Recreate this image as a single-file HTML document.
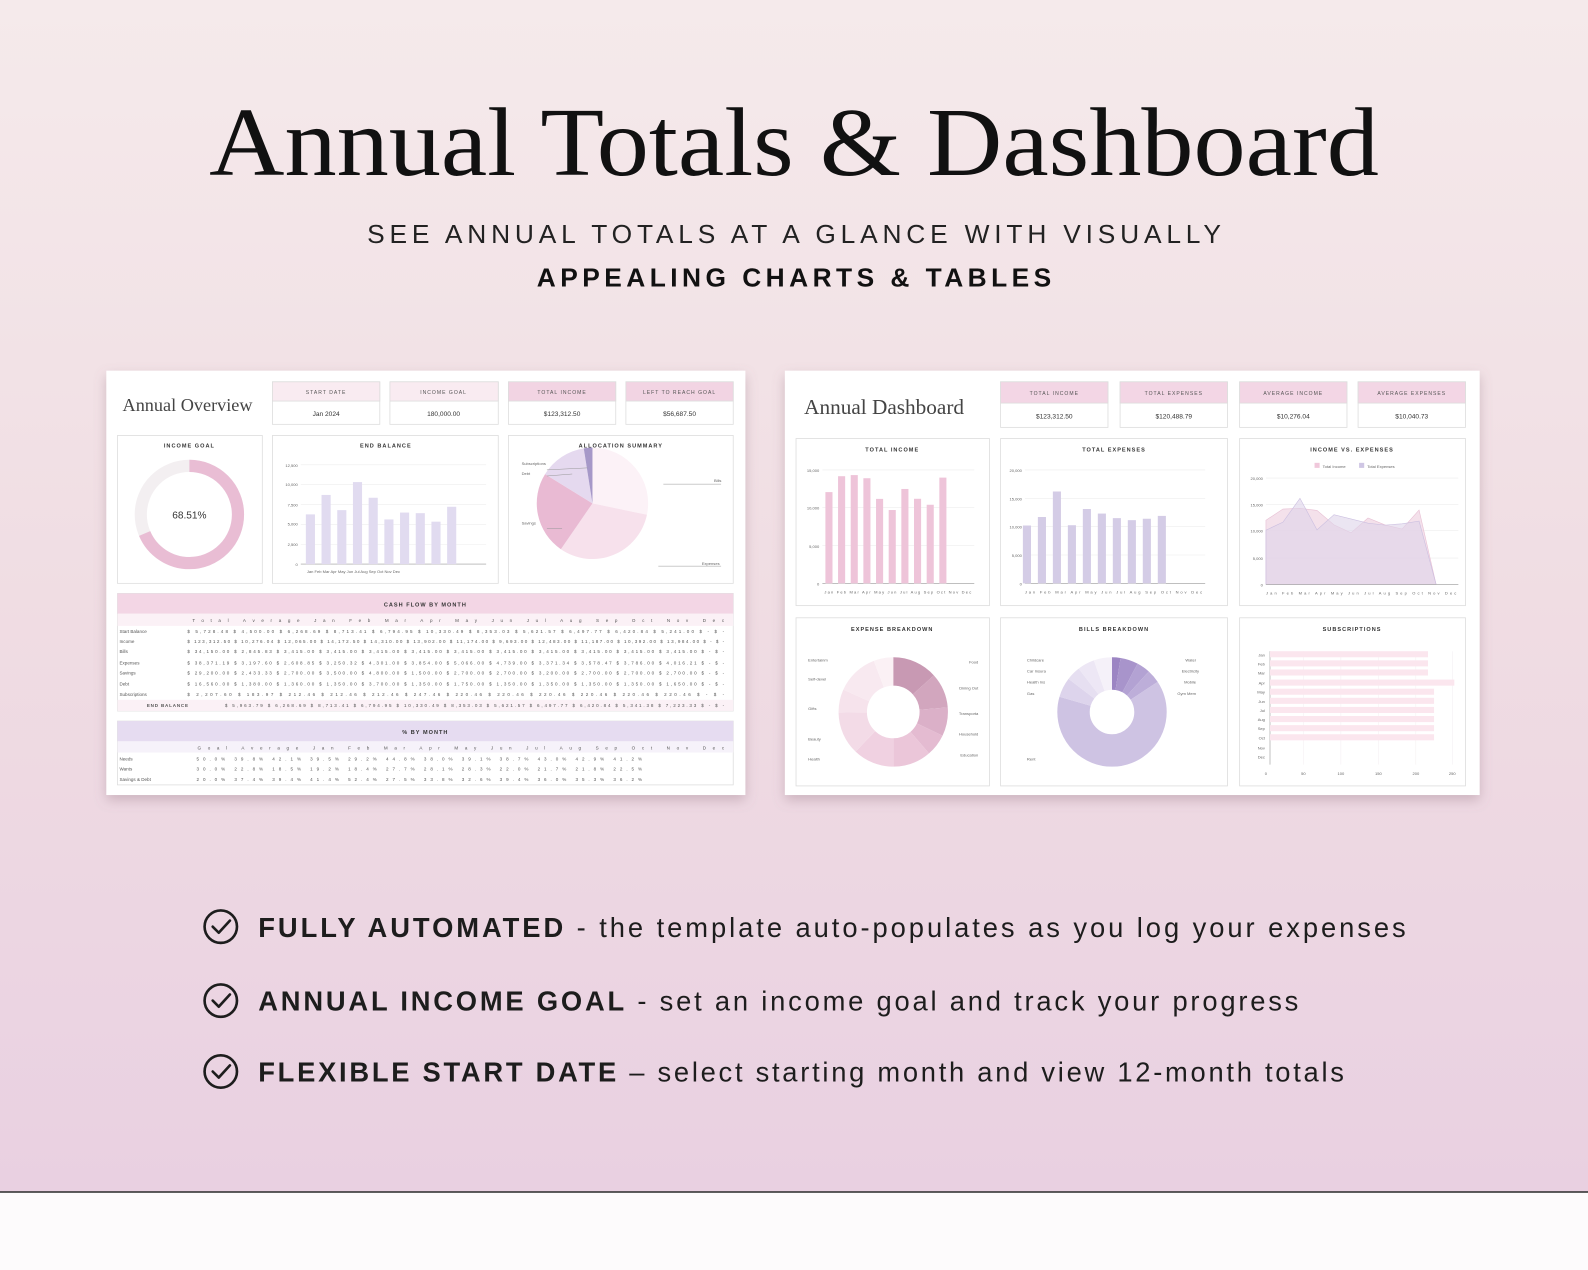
<!DOCTYPE html>
<html><head><meta charset="utf-8"><style>
html,body{margin:0;padding:0;width:1588px;height:1270px;overflow:hidden}
svg{display:block}
.s{font-family:"Liberation Sans",sans-serif}
.t{font-family:"Liberation Sans",sans-serif;font-size:4.5px;fill:#555}
.h{font-family:"Liberation Sans",sans-serif;font-size:5.5px;fill:#333;font-weight:bold;letter-spacing:1px}
.ax{font-family:"Liberation Sans",sans-serif;font-size:4px;fill:#666}
</style></head><body>
<svg width="1588" height="1270" viewBox="0 0 1568 1254" xmlns="http://www.w3.org/2000/svg">
<defs>
<linearGradient id="bg" x1="0" y1="0" x2="0" y2="1"><stop offset="0" stop-color="#f5eaeb"/><stop offset="0.5" stop-color="#f0dde3"/><stop offset="1" stop-color="#e9d0e1"/></linearGradient>
<filter id="sh" x="-5%" y="-5%" width="110%" height="115%"><feDropShadow dx="0" dy="5" stdDeviation="6" flood-color="#8a6a78" flood-opacity="0.35"/></filter>
</defs>
<rect width="1568" height="1177" fill="url(#bg)"/>
<rect y="1177" width="1568" height="77" fill="#fdfbfc"/>
<line x1="0" y1="1177" x2="1568" y2="1177" stroke="#2a2a2a" stroke-width="1.5"/>

<text x="784" y="173" text-anchor="middle" font-family="Liberation Serif,serif" font-size="96" fill="#111" textLength="1155" lengthAdjust="spacingAndGlyphs">Annual Totals &amp; Dashboard</text>
<text x="784" y="240" text-anchor="middle" class="s" font-size="26" fill="#222" textLength="843" lengthAdjust="spacing">SEE ANNUAL TOTALS AT A GLANCE WITH VISUALLY</text>
<text x="784" y="283" text-anchor="middle" class="s" font-size="26" font-weight="bold" fill="#111" textLength="508" lengthAdjust="spacing">APPEALING CHARTS &amp; TABLES</text>

<!-- LEFT PANEL -->
<rect x="105" y="366" width="631" height="419" fill="#fff" filter="url(#sh)"/>
<text x="121" y="406" font-family="Liberation Serif,serif" font-size="18" fill="#444">Annual Overview</text>
<g stroke="#ddd" stroke-width="0.8">
<rect x="269" y="377" width="106" height="42" fill="#fff"/><rect x="269" y="377" width="106" height="19" fill="#f9ebf1"/>
<rect x="385" y="377" width="107" height="42" fill="#fff"/><rect x="385" y="377" width="107" height="19" fill="#f9ebf1"/>
<rect x="502" y="377" width="106" height="42" fill="#fff"/><rect x="502" y="377" width="106" height="19" fill="#f2d4e3"/>
<rect x="618" y="377" width="106" height="42" fill="#fff"/><rect x="618" y="377" width="106" height="19" fill="#f2d4e3"/>
</g>
<g class="s" font-size="5" fill="#555" text-anchor="middle" letter-spacing="1">
<text x="322" y="389">START DATE</text><text x="438" y="389">INCOME GOAL</text><text x="555" y="389">TOTAL INCOME</text><text x="671" y="389">LEFT TO REACH GOAL</text></g>
<g class="s" font-size="6.5" fill="#333" text-anchor="middle">
<text x="322" y="411">Jan 2024</text><text x="438" y="411">180,000.00</text><text x="555" y="411">$123,312.50</text><text x="671" y="411">$56,687.50</text></g>
<g fill="#fff" stroke="#ddd" stroke-width="0.8">
<rect x="116" y="430" width="143" height="146"/><rect x="269" y="430" width="223" height="146"/><rect x="502" y="430" width="222" height="146"/></g>
<text x="187" y="442" text-anchor="middle" class="h">INCOME GOAL</text>
<text x="381" y="442" text-anchor="middle" class="h">END BALANCE</text>
<text x="613" y="442" text-anchor="middle" class="h">ALLOCATION SUMMARY</text>
<circle cx="187" cy="508" r="48" fill="none" stroke="#f3eff1" stroke-width="12"/>
<circle cx="187" cy="508" r="48" fill="none" stroke="#e9bdd4" stroke-width="12" stroke-dasharray="206.6 400" transform="rotate(-90 187 508)"/>
<text x="187" y="512" text-anchor="middle" class="s" font-size="10" fill="#333">68.51%</text>
<!-- end balance -->
<g stroke="#eee" stroke-width="0.6"><line x1="297" y1="459" x2="480" y2="459"/><line x1="297" y1="478.6" x2="480" y2="478.6"/><line x1="297" y1="498.2" x2="480" y2="498.2"/><line x1="297" y1="517.8" x2="480" y2="517.8"/><line x1="297" y1="537.4" x2="480" y2="537.4"/></g>
<line x1="297" y1="557" x2="480" y2="557" stroke="#999" stroke-width="0.6"/>
<g class="ax" text-anchor="end"><text x="294" y="461">12,500</text><text x="294" y="480">10,000</text><text x="294" y="500">7,500</text><text x="294" y="519">5,000</text><text x="294" y="539">2,500</text><text x="294" y="559">0</text></g>
<g fill="#e1dbf0">
<rect x="302" y="507.9" width="9" height="49.1"/><rect x="317.5" y="488.7" width="9" height="68.3"/><rect x="333" y="503.7" width="9" height="53.3"/><rect x="348.5" y="476" width="9" height="81"/><rect x="364" y="491.5" width="9" height="65.5"/><rect x="379.5" y="512.9" width="9" height="44.1"/><rect x="395" y="506.1" width="9" height="50.9"/><rect x="410.5" y="506.7" width="9" height="50.3"/><rect x="426" y="515.1" width="9" height="41.9"/><rect x="441.5" y="500.4" width="9" height="56.6"/></g>
<g class="ax"><text x="303" y="566">Jan Feb Mar Apr May Jun Jul Aug Sep Oct Nov Dec</text></g>
<!-- allocation pie -->
<path d="M585 497L585 442A55 55 0 0 1 638.8 508.3Z" fill="#fcf2f7"/>
<path d="M585 497L638.8 508.3A55 55 0 0 1 553.8 542.3Z" fill="#f7e1ec"/>
<path d="M585 497L553.8 542.3A55 55 0 0 1 538.2 468.1Z" fill="#e9bad3"/>
<path d="M585 497L538.2 468.1A55 55 0 0 1 576.4 442.7Z" fill="#e5d9ef"/>
<path d="M585 497L576.4 442.7A55 55 0 0 1 585 442Z" fill="#a698c8"/>
<g stroke="#999" stroke-width="0.5"><line x1="540" y1="464" x2="580" y2="462"/><line x1="540" y1="470" x2="565" y2="468"/><line x1="540" y1="522" x2="555" y2="522"/><line x1="655" y1="478" x2="712" y2="478"/><line x1="650" y1="559" x2="712" y2="559"/></g>
<g class="ax"><text x="515" y="459">Subscriptions</text><text x="515" y="469">Debt</text><text x="515" y="518">Savings</text><text x="705" y="476">Bills</text><text x="693" y="558">Expenses</text></g>
<!-- cash flow table -->
<rect x="116" y="586" width="608" height="116" fill="#fff" stroke="#ddd" stroke-width="0.8"/>
<rect x="116" y="586" width="608" height="20" fill="#f3d6e5"/>
<rect x="116" y="606" width="608" height="12" fill="#fbf1f6"/>
<rect x="116" y="691" width="608" height="11" fill="#fbf1f6"/>
<text x="420" y="599" text-anchor="middle" class="h" font-size="5">CASH FLOW BY MONTH</text>
<g class="t"><text x="190" y="614" textLength="525" lengthAdjust="spacing">Total      Average      Jan      Feb      Mar      Apr      May      Jun      Jul      Aug      Sep      Oct      Nov      Dec</text>
<text x="118" y="625">Start Balance</text><text x="185" y="625" textLength="530" lengthAdjust="spacing">$ 5,728.48 $ 4,500.00 $ 6,268.69 $ 8,713.41 $ 6,794.95 $ 10,330.49 $ 8,353.03 $ 5,621.57 $ 6,497.77 $ 6,420.84 $ 5,241.00 $ - $ -</text>
<text x="118" y="635">Income</text><text x="185" y="635" textLength="530" lengthAdjust="spacing">$ 123,312.50 $ 10,276.04 $ 12,065.00 $ 14,172.50 $ 14,310.00 $ 13,902.00 $ 11,174.00 $ 9,693.00 $ 12,483.00 $ 11,187.00 $ 10,392.00 $ 13,984.00 $ - $ -</text>
<text x="118" y="645">Bills</text><text x="185" y="645" textLength="530" lengthAdjust="spacing">$ 34,150.00 $ 2,845.83 $ 3,415.00 $ 3,415.00 $ 3,415.00 $ 3,415.00 $ 3,415.00 $ 3,415.00 $ 3,415.00 $ 3,415.00 $ 3,415.00 $ 3,415.00 $ - $ -</text>
<text x="118" y="656">Expenses</text><text x="185" y="656" textLength="530" lengthAdjust="spacing">$ 38,371.19 $ 3,197.60 $ 2,608.85 $ 3,250.32 $ 4,301.00 $ 3,854.00 $ 5,066.00 $ 4,739.00 $ 3,371.34 $ 3,578.47 $ 3,786.00 $ 4,016.21 $ - $ -</text>
<text x="118" y="666">Savings</text><text x="185" y="666" textLength="530" lengthAdjust="spacing">$ 29,200.00 $ 2,433.33 $ 2,700.00 $ 3,500.00 $ 4,800.00 $ 1,500.00 $ 2,700.00 $ 2,700.00 $ 3,200.00 $ 2,700.00 $ 2,700.00 $ 2,700.00 $ - $ -</text>
<text x="118" y="677">Debt</text><text x="185" y="677" textLength="530" lengthAdjust="spacing">$ 16,560.00 $ 1,380.00 $ 1,360.00 $ 1,350.00 $ 3,700.00 $ 1,350.00 $ 1,750.00 $ 1,350.00 $ 1,350.00 $ 1,350.00 $ 1,350.00 $ 1,650.00 $ - $ -</text>
<text x="118" y="687">Subscriptions</text><text x="185" y="687" textLength="530" lengthAdjust="spacing">$ 2,207.60 $ 183.97 $ 212.46 $ 212.46 $ 212.46 $ 247.46 $ 220.46 $ 220.46 $ 220.46 $ 220.46 $ 220.46 $ 220.46 $ - $ -</text>
<text x="145" y="698" font-weight="bold" letter-spacing="0.8">END BALANCE</text><text x="222" y="698" textLength="493" lengthAdjust="spacing">$ 5,963.79 $ 6,268.69 $ 8,713.41 $ 6,794.95 $ 10,330.49 $ 8,353.03 $ 5,621.57 $ 6,497.77 $ 6,420.84 $ 5,341.38 $ 7,223.33 $ - $ -</text></g>
<!-- % by month -->
<rect x="116" y="712" width="608" height="63" fill="#fff" stroke="#ddd" stroke-width="0.8"/>
<rect x="116" y="712" width="608" height="20" fill="#e6dcf1"/>
<rect x="116" y="732" width="608" height="11" fill="#f6f2fa"/>
<text x="420" y="725" text-anchor="middle" class="h" font-size="5">% BY MONTH</text>
<g class="t"><text x="195" y="740" textLength="520" lengthAdjust="spacing">Goal      Average      Jan      Feb      Mar      Apr      May      Jun      Jul      Aug      Sep      Oct      Nov      Dec</text>
<text x="118" y="751">Needs</text><text x="194" y="751" textLength="440" lengthAdjust="spacing">50.0% 39.8% 42.1% 39.5% 29.2% 44.8% 38.0% 39.1% 38.7% 43.0% 42.9% 41.2%</text>
<text x="118" y="761">Wants</text><text x="194" y="761" textLength="440" lengthAdjust="spacing">30.0% 22.8% 18.5% 19.2% 18.4% 27.7% 28.1% 28.3% 22.0% 21.7% 21.8% 22.5%</text>
<text x="118" y="771">Savings &amp; Debt</text><text x="194" y="771" textLength="440" lengthAdjust="spacing">20.0% 37.4% 39.4% 41.4% 52.4% 27.5% 33.8% 32.6% 39.4% 36.0% 35.3% 36.2%</text></g>

<!-- RIGHT PANEL -->
<rect x="775" y="366" width="686" height="419" fill="#fff" filter="url(#sh)"/>
<text x="794" y="409" font-family="Liberation Serif,serif" font-size="21" fill="#444">Annual Dashboard</text>
<g stroke="#ddd" stroke-width="0.8">
<rect x="988" y="377" width="106" height="45" fill="#fff"/><rect x="988" y="377" width="106" height="21" fill="#f3d6e5"/>
<rect x="1106" y="377" width="106" height="45" fill="#fff"/><rect x="1106" y="377" width="106" height="21" fill="#f3d6e5"/>
<rect x="1224" y="377" width="106" height="45" fill="#fff"/><rect x="1224" y="377" width="106" height="21" fill="#f3d6e5"/>
<rect x="1341" y="377" width="106" height="45" fill="#fff"/><rect x="1341" y="377" width="106" height="21" fill="#f3d6e5"/></g>
<g class="s" font-size="5" fill="#555" text-anchor="middle" letter-spacing="1">
<text x="1041" y="390">TOTAL INCOME</text><text x="1159" y="390">TOTAL EXPENSES</text><text x="1277" y="390">AVERAGE INCOME</text><text x="1394" y="390">AVERAGE EXPENSES</text></g>
<g class="s" font-size="6.5" fill="#333" text-anchor="middle">
<text x="1041" y="413">$123,312.50</text><text x="1159" y="413">$120,488.79</text><text x="1277" y="413">$10,276.04</text><text x="1394" y="413">$10,040.73</text></g>
<g fill="#fff" stroke="#ddd" stroke-width="0.8">
<rect x="786" y="433" width="191" height="165"/><rect x="988" y="433" width="224" height="165"/><rect x="1224" y="433" width="223" height="165"/>
<rect x="786" y="610" width="191" height="166"/><rect x="988" y="610" width="224" height="166"/><rect x="1224" y="610" width="223" height="166"/></g>
<text x="881" y="446" text-anchor="middle" class="h">TOTAL INCOME</text>
<text x="1100" y="446" text-anchor="middle" class="h">TOTAL EXPENSES</text>
<text x="1335" y="446" text-anchor="middle" class="h">INCOME VS. EXPENSES</text>
<text x="881" y="623" text-anchor="middle" class="h">EXPENSE BREAKDOWN</text>
<text x="1100" y="623" text-anchor="middle" class="h">BILLS BREAKDOWN</text>
<text x="1335" y="623" text-anchor="middle" class="h">SUBSCRIPTIONS</text>
<!-- total income -->
<g stroke="#eee" stroke-width="0.6"><line x1="812" y1="464" x2="962" y2="464"/><line x1="812" y1="501.3" x2="962" y2="501.3"/><line x1="812" y1="538.7" x2="962" y2="538.7"/></g>
<line x1="812" y1="576" x2="962" y2="576" stroke="#999" stroke-width="0.6"/>
<g class="ax" text-anchor="end"><text x="809" y="466">15,000</text><text x="809" y="503">10,000</text><text x="809" y="541">5,000</text><text x="809" y="578">0</text></g>
<g fill="#eec4d9">
<rect x="815" y="485.9" width="7" height="90.1"/><rect x="827.5" y="470.2" width="7" height="105.8"/><rect x="840" y="469.1" width="7" height="106.9"/><rect x="852.5" y="472.2" width="7" height="103.8"/><rect x="865" y="492.6" width="7" height="83.4"/><rect x="877.5" y="503.6" width="7" height="72.4"/><rect x="890" y="482.8" width="7" height="93.2"/><rect x="902.5" y="492.5" width="7" height="83.5"/><rect x="915" y="498.4" width="7" height="77.6"/><rect x="927.5" y="471.6" width="7" height="104.4"/></g>
<text x="814" y="586" class="ax" textLength="145" lengthAdjust="spacing">Jan Feb Mar Apr May Jun Jul Aug Sep Oct Nov Dec</text>
<!-- total expenses -->
<g stroke="#eee" stroke-width="0.6"><line x1="1012" y1="464" x2="1190" y2="464"/><line x1="1012" y1="492" x2="1190" y2="492"/><line x1="1012" y1="520" x2="1190" y2="520"/><line x1="1012" y1="548" x2="1190" y2="548"/></g>
<line x1="1012" y1="576" x2="1190" y2="576" stroke="#999" stroke-width="0.6"/>
<g class="ax" text-anchor="end"><text x="1009" y="466">20,000</text><text x="1009" y="494">15,000</text><text x="1009" y="522">10,000</text><text x="1009" y="550">5,000</text><text x="1009" y="578">0</text></g>
<g fill="#d4cce6">
<rect x="1010" y="518.9" width="8" height="57.1"/><rect x="1024.8" y="510.5" width="8" height="65.5"/><rect x="1039.6" y="485.3" width="8" height="90.7"/><rect x="1054.4" y="518.6" width="8" height="57.4"/><rect x="1069.2" y="502.6" width="8" height="73.4"/><rect x="1084" y="507.1" width="8" height="68.9"/><rect x="1098.8" y="511.6" width="8" height="64.4"/><rect x="1113.6" y="513.6" width="8" height="62.4"/><rect x="1128.4" y="512.2" width="8" height="63.8"/><rect x="1143.2" y="509.4" width="8" height="66.6"/></g>
<text x="1012" y="586" class="ax" textLength="175" lengthAdjust="spacing">Jan Feb Mar Apr May Jun Jul Aug Sep Oct Nov Dec</text>
<!-- income vs expenses -->
<rect x="1298" y="457" width="5" height="5" fill="#f0c8db"/><text x="1306" y="462" class="ax">Total Income</text>
<rect x="1342" y="457" width="5" height="5" fill="#cfc6e4"/><text x="1350" y="462" class="ax">Total Expenses</text>
<g stroke="#eee" stroke-width="0.6"><line x1="1250" y1="472" x2="1440" y2="472"/><line x1="1250" y1="498" x2="1440" y2="498"/><line x1="1250" y1="524" x2="1440" y2="524"/><line x1="1250" y1="551" x2="1440" y2="551"/></g>
<g class="ax" text-anchor="end"><text x="1247" y="474">20,000</text><text x="1247" y="500">15,000</text><text x="1247" y="526">10,000</text><text x="1247" y="553">5,000</text><text x="1247" y="579">0</text></g>
<path d="M1250 577L1250 513.7L1266.8 502.6L1283.6 501.9L1300.4 504L1317.2 518.3L1334 526.1L1350.8 511.5L1367.6 518.3L1384.4 522.4L1401.2 503.6L1418 577Z" fill="#f0d4e2" fill-opacity="0.7" stroke="#e8c0d4" stroke-width="0.6"/>
<path d="M1250 577L1250 523.5L1266.8 515.6L1283.6 492L1300.4 523.2L1317.2 508.2L1334 512.4L1350.8 516.6L1367.6 518.5L1384.4 517.2L1401.2 514.5L1418 577Z" fill="#ddd4ea" fill-opacity="0.6" stroke="#cbbfe0" stroke-width="0.6"/>
<line x1="1250" y1="577" x2="1440" y2="577" stroke="#999" stroke-width="0.6"/>
<text x="1250" y="587" class="ax" textLength="188" lengthAdjust="spacing">Jan Feb Mar Apr May Jun Jul Aug Sep Oct Nov Dec</text>
<!-- expense breakdown -->
<g fill="none" stroke-width="28" transform="rotate(-90 882 703)">
<circle cx="882" cy="703" r="40" stroke="#c899b3" stroke-dasharray="33.4 300" stroke-dashoffset="0"/>
<circle cx="882" cy="703" r="40" stroke="#d2a6be" stroke-dasharray="25.9 300" stroke-dashoffset="-33.4"/>
<circle cx="882" cy="703" r="40" stroke="#dbb0c8" stroke-dasharray="21.4 300" stroke-dashoffset="-59.3"/>
<circle cx="882" cy="703" r="40" stroke="#e4bbd1" stroke-dasharray="16.3 300" stroke-dashoffset="-80.7"/>
<circle cx="882" cy="703" r="40" stroke="#ebc6d9" stroke-dasharray="28.4 300" stroke-dashoffset="-97"/>
<circle cx="882" cy="703" r="40" stroke="#f0d1e1" stroke-dasharray="30.4 300" stroke-dashoffset="-125.4"/>
<circle cx="882" cy="703" r="40" stroke="#f3dbe7" stroke-dasharray="31.9 300" stroke-dashoffset="-155.8"/>
<circle cx="882" cy="703" r="40" stroke="#f6e3ec" stroke-dasharray="17.3 300" stroke-dashoffset="-187.7"/>
<circle cx="882" cy="703" r="40" stroke="#f8e9f0" stroke-dasharray="31.4 300" stroke-dashoffset="-205"/>
<circle cx="882" cy="703" r="40" stroke="#fbf1f5" stroke-dasharray="15 300" stroke-dashoffset="-236.4"/></g>
<g class="ax"><text x="798" y="653">Entertainm</text><text x="798" y="672">Self-devel</text><text x="798" y="701">Gifts</text><text x="798" y="731">Beauty</text><text x="798" y="751">Health</text>
<text x="966" y="655" text-anchor="end">Food</text><text x="966" y="681" text-anchor="end">Dining Out</text><text x="966" y="706" text-anchor="end">Transporta</text><text x="966" y="726" text-anchor="end">Household</text><text x="966" y="747" text-anchor="end">Education</text></g>
<!-- bills breakdown -->
<g fill="none" stroke-width="32" transform="rotate(-90 1098 703)">
<circle cx="1098" cy="703" r="38" stroke="#9c85c3" stroke-dasharray="6 300" stroke-dashoffset="0"/>
<circle cx="1098" cy="703" r="38" stroke="#a894cb" stroke-dasharray="12.5 300" stroke-dashoffset="-6"/>
<circle cx="1098" cy="703" r="38" stroke="#b3a2d3" stroke-dasharray="9.5 300" stroke-dashoffset="-18.5"/>
<circle cx="1098" cy="703" r="38" stroke="#bdaed9" stroke-dasharray="9.5 300" stroke-dashoffset="-28"/>
<circle cx="1098" cy="703" r="38" stroke="#cec3e3" stroke-dasharray="152 300" stroke-dashoffset="-37.5"/>
<circle cx="1098" cy="703" r="38" stroke="#ddd4ec" stroke-dasharray="14 300" stroke-dashoffset="-189.5"/>
<circle cx="1098" cy="703" r="38" stroke="#e6dff1" stroke-dasharray="10 300" stroke-dashoffset="-203.5"/>
<circle cx="1098" cy="703" r="38" stroke="#ede7f5" stroke-dasharray="12 300" stroke-dashoffset="-213.5"/>
<circle cx="1098" cy="703" r="38" stroke="#f5f1f9" stroke-dasharray="13.3 300" stroke-dashoffset="-225.5"/></g>
<g class="ax"><text x="1014" y="653">Childcare</text><text x="1014" y="664">Car Insura</text><text x="1014" y="675">Health Ins</text><text x="1014" y="686">Gas</text><text x="1014" y="751">Rent</text>
<text x="1181" y="653" text-anchor="end">Water</text><text x="1184" y="664" text-anchor="end">Electricity</text><text x="1181" y="675" text-anchor="end">Mobile</text><text x="1181" y="686" text-anchor="end">Gym Mem</text></g>
<!-- subscriptions -->
<line x1="1254" y1="643" x2="1254" y2="755" stroke="#999" stroke-width="0.6"/>
<g stroke="#f3eef0" stroke-width="0.5"><line x1="1287" y1="643" x2="1287" y2="755"/><line x1="1324" y1="643" x2="1324" y2="755"/><line x1="1361" y1="643" x2="1361" y2="755"/><line x1="1398" y1="643" x2="1398" y2="755"/><line x1="1434" y1="643" x2="1434" y2="755"/></g>
<g fill="#fbe6ee">
<rect x="1254" y="643" width="156" height="6"/><rect x="1254" y="652" width="156" height="6"/><rect x="1254" y="661" width="156" height="6"/><rect x="1254" y="671" width="182" height="6"/><rect x="1254" y="680" width="162" height="6"/><rect x="1254" y="689" width="162" height="6"/><rect x="1254" y="698" width="162" height="6"/><rect x="1254" y="707" width="162" height="6"/><rect x="1254" y="716" width="162" height="6"/><rect x="1254" y="725" width="162" height="6"/></g>
<g class="ax" text-anchor="end"><text x="1249" y="648">Jan</text><text x="1249" y="657">Feb</text><text x="1249" y="666">Mar</text><text x="1249" y="676">Apr</text><text x="1249" y="685">May</text><text x="1249" y="694">Jun</text><text x="1249" y="703">Jul</text><text x="1249" y="712">Aug</text><text x="1249" y="721">Sep</text><text x="1249" y="730">Oct</text><text x="1249" y="740">Nov</text><text x="1249" y="749">Dec</text></g>
<g class="ax" text-anchor="middle"><text x="1250" y="765">0</text><text x="1287" y="765">50</text><text x="1324" y="765">100</text><text x="1361" y="765">150</text><text x="1398" y="765">200</text><text x="1434" y="765">250</text></g>

<!-- bullets -->
<g fill="none" stroke="#1d1d1d" stroke-width="2.6" stroke-linecap="round" stroke-linejoin="round">
<circle cx="218" cy="915" r="16"/><path d="M210 915l6 6 11-12"/>
<circle cx="218" cy="988" r="16"/><path d="M210 988l6 6 11-12"/>
<circle cx="218" cy="1058" r="16"/><path d="M210 1058l6 6 11-12"/></g>
<g class="s" font-size="27" fill="#1d1d1d">
<text x="255" y="925" textLength="1133" lengthAdjust="spacing"><tspan font-weight="bold">FULLY AUTOMATED</tspan> - the template auto-populates as you log your expenses</text>
<text x="255" y="998" textLength="1027" lengthAdjust="spacing"><tspan font-weight="bold">ANNUAL INCOME GOAL</tspan> - set an income goal and track your progress</text>
<text x="255" y="1068" textLength="1072" lengthAdjust="spacing"><tspan font-weight="bold">FLEXIBLE START DATE</tspan> – select starting month and view 12-month totals</text></g>
</svg>
</body></html>
